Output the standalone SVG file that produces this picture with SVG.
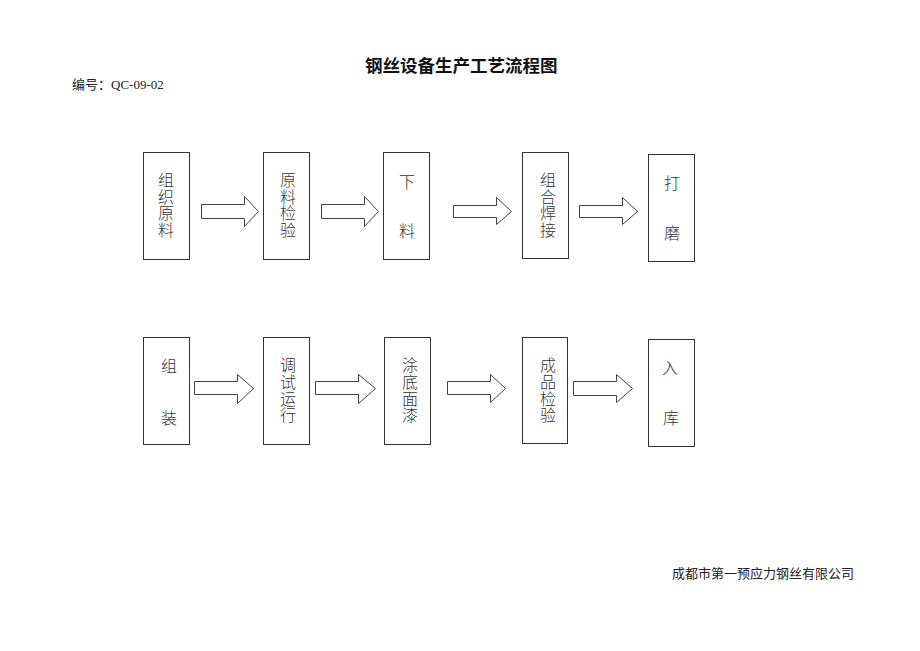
<svg xmlns="http://www.w3.org/2000/svg" width="920" height="651" viewBox="0 0 920 651">
<style>
.bg{fill:#ffffff}
.box{fill:#ffffff;stroke:#333333;stroke-width:1}
.arr{fill:#ffffff;stroke:#444444;stroke-width:1}
.t{font-family:"Liberation Serif","Noto Sans CJK SC",serif;font-size:16px;font-weight:300;fill:#333333;text-anchor:middle}
.title{font-family:"Noto Sans CJK SC",sans-serif;font-size:17.5px;font-weight:bold;fill:#111111}
.small{font-family:"Liberation Serif","Noto Sans CJK SC",serif;font-size:13px;fill:#222222}
</style>
<rect class="bg" x="0" y="0" width="920" height="651"/>
<text class="title" x="365" y="72">钢丝设备生产工艺流程图</text>
<text class="small" x="72" y="89">编号：QC-09-02</text>
<text class="small" x="672" y="578">成都市第一预应力钢丝有限公司</text>

<g id="n1"><rect class="box" x="143.5" y="152.5" width="46" height="107"/>
<text class="t" x="166" y="186">组</text><text class="t" x="166" y="202.5">织</text><text class="t" x="166" y="219">原</text><text class="t" x="166" y="236">料</text></g>
<g id="n2"><rect class="box" x="263.5" y="152.5" width="46" height="107"/>
<text class="t" x="288" y="186">原</text><text class="t" x="288" y="202.5">料</text><text class="t" x="288" y="219">检</text><text class="t" x="288" y="236">验</text></g>
<g id="n3"><rect class="box" x="383.5" y="152.5" width="46" height="107"/>
<text class="t" x="407" y="188">下</text><text class="t" x="407" y="237">料</text></g>
<g id="n4"><rect class="box" x="522.5" y="152.5" width="46" height="106"/>
<text class="t" x="548" y="186">组</text><text class="t" x="548" y="202.5">合</text><text class="t" x="548" y="219">焊</text><text class="t" x="548" y="236">接</text></g>
<g id="n5"><rect class="box" x="648.5" y="154.5" width="46" height="107"/>
<text class="t" x="672" y="189">打</text><text class="t" x="672" y="239">磨</text></g>

<g id="n6"><rect class="box" x="143.5" y="337.5" width="46" height="107"/>
<text class="t" x="169" y="372">组</text><text class="t" x="169" y="424">装</text></g>
<g id="n7"><rect class="box" x="263.5" y="337.5" width="46" height="107"/>
<text class="t" x="288" y="371">调</text><text class="t" x="288" y="388">试</text><text class="t" x="288" y="404.5">运</text><text class="t" x="288" y="421">行</text></g>
<g id="n8"><rect class="box" x="384.5" y="337.5" width="46" height="107"/>
<text class="t" x="410" y="371">涂</text><text class="t" x="410" y="388">底</text><text class="t" x="410" y="404.5">面</text><text class="t" x="410" y="421">漆</text></g>
<g id="n9"><rect class="box" x="522.5" y="337.5" width="45" height="106"/>
<text class="t" x="548" y="371">成</text><text class="t" x="548" y="388">品</text><text class="t" x="548" y="404.5">检</text><text class="t" x="548" y="421">验</text></g>
<g id="n10"><rect class="box" x="648.5" y="339.5" width="46" height="107"/>
<text class="t" x="670" y="374">入</text><text class="t" x="671" y="424">库</text></g>

<g id="connectors">
<polygon class="arr" points="201.5,204.5 244.5,204.5 244.5,196.5 258.5,211.5 244.5,226.5 244.5,218.5 201.5,218.5"/>
<polygon class="arr" points="321.5,204.5 364.5,204.5 364.5,196.5 378.5,211.5 364.5,226.5 364.5,218.5 321.5,218.5"/>
<polygon class="arr" points="453.5,205.5 496.5,205.5 496.5,197.5 511.5,211.5 496.5,224.5 496.5,217.5 453.5,217.5"/>
<polygon class="arr" points="579.5,205.5 622.5,205.5 622.5,197.5 637.5,211.5 622.5,224.5 622.5,217.5 579.5,217.5"/>
<polygon class="arr" points="194.5,381.5 237.5,381.5 237.5,374.5 253.5,388.5 237.5,403.5 237.5,394.5 194.5,394.5"/>
<polygon class="arr" points="315.5,381.5 358.5,381.5 358.5,374.5 375.5,388.5 358.5,403.5 358.5,394.5 315.5,394.5"/>
<polygon class="arr" points="447.5,381.5 490.5,381.5 490.5,374.5 505.5,388.5 490.5,402.5 490.5,394.5 447.5,394.5"/>
<polygon class="arr" points="573.5,381.5 616.5,381.5 616.5,374.5 632.5,388.5 616.5,402.5 616.5,395.5 573.5,395.5"/>
</g>
</svg>
